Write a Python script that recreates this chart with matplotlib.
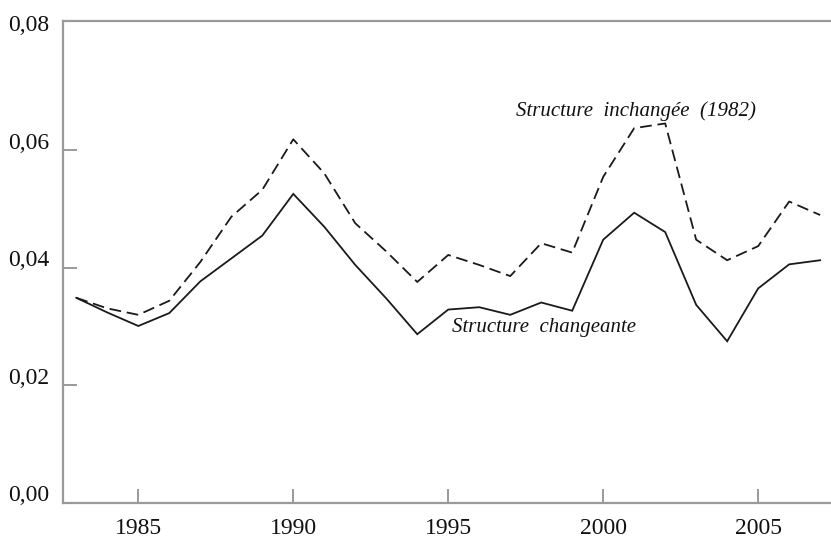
import matplotlib
matplotlib.use("Agg")
import matplotlib.pyplot as plt
import matplotlib.transforms as mtransforms

plt.rcParams['font.family'] = ['Liberation Serif', 'DejaVu Serif']

# Data
annees = list(range(1983, 2008))
structure_changeante = [0.0349, 0.0324, 0.0301, 0.0323, 0.0377, 0.0416, 0.0455, 0.0526,
                        0.0470, 0.0405, 0.0348, 0.0287, 0.0329, 0.0333, 0.0320, 0.0341,
                        0.0327, 0.0448, 0.0494, 0.0461, 0.0337, 0.0275, 0.0365, 0.0406,
                        0.0413]
structure_inchangee = [0.0349, 0.0331, 0.0320, 0.0344, 0.0410, 0.0487, 0.0533, 0.0619,
                       0.0561, 0.0476, 0.0428, 0.0376, 0.0422, 0.0405, 0.0386, 0.0442,
                       0.0426, 0.0555, 0.0638, 0.0646, 0.0448, 0.0413, 0.0437, 0.0513,
                       0.0490]
x_ticks = [1985, 1990, 1995, 2000, 2005]
y_ticks = [0.00, 0.02, 0.04, 0.06, 0.08]
y_labels = ['0,00', '0,02', '0,04', '0,06', '0,08']

fig = plt.figure(figsize=(8.31, 5.38), dpi=100)
ax = fig.add_axes([0.0762, 0.0656, 0.9238, 0.8959])

linjefarg = '#1a1a1a'
ax.plot(annees, structure_changeante, color=linjefarg, lw=1.3, solid_joinstyle='miter')
ax.plot(annees, structure_inchangee, color=linjefarg, lw=1.3, linestyle=(0, (6.5, 3.2)))

ax.set_xlim(1982.58, 2007.35)
ax.set_ylim(0, 0.0821)

# Axlar och ticks
spine_farg = '#9a9a9a'
for s in ['left', 'bottom', 'top']:
    ax.spines[s].set_color(spine_farg)
    ax.spines[s].set_linewidth(1.6)
ax.spines['right'].set_visible(False)

ax.set_xticks(x_ticks)
ax.set_xticklabels([str(a) for a in x_ticks])
ax.set_yticks(y_ticks)
ax.set_yticklabels(y_labels)
ax.tick_params(axis='both', direction='in', length=10, width=1.4, color=spine_farg,
               labelsize=17, labelcolor='#111111')
ax.tick_params(axis='x', pad=11)
ax.tick_params(axis='y', pad=10)
ax.tick_params(top=False, right=False)

# ingen tickmarkering vid 0,08 (övre kanten)
ax.yaxis.get_major_ticks()[-1].tick1line.set_visible(False)

# flytta y-etiketterna lite uppåt
offset = mtransforms.ScaledTranslation(0, 7 / 72, fig.dpi_scale_trans)
for lbl in ax.get_yticklabels():
    lbl.set_transform(lbl.get_transform() + offset)

# Etiketter på kurvorna
ax.text(2001.05, 0.0667, 'Structure  inchangée  (1982)', fontsize=15, style='italic',
        ha='center', va='center', color='#111111')
ax.text(1998.1, 0.0298, 'Structure  changeante', fontsize=15, style='italic',
        ha='center', va='center', color='#111111')

fig.savefig('out.png', dpi=100)
